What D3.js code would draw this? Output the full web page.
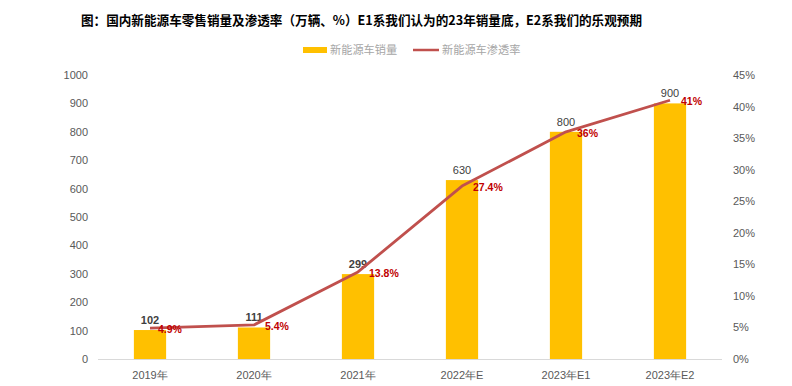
<!DOCTYPE html>
<html><head><meta charset="utf-8">
<script src="https://cdn.jsdelivr.net/npm/d3@7"></script>
<style>body{margin:0;background:#fff}svg{display:block;font-family:"Noto Sans CJK SC","Liberation Sans",sans-serif}</style>
</head><body><svg id="c" width="792" height="386"></svg>
<script>
const categories = ["2019年","2020年","2021年","2022年E","2023年E1","2023年E2"];
const sales = [102,111,299,630,800,900];
const penetration = [4.9,5.4,13.8,27.4,36,41];
const penLabels = ["4.9%","5.4%","13.8%","27.4%","36%","41%"];
const leftTicks = [0,100,200,300,400,500,600,700,800,900,1000];
const rightTicks = [0,5,10,15,20,25,30,35,40,45];
const title = "图：国内新能源车零售销量及渗透率（万辆、%）E1系我们认为的23年销量底，E2系我们的乐观预期";
const legendNames = ["新能源车销量","新能源车渗透率"];

const svg = d3.select("#c");
const x = d3.scaleBand().domain(categories).range([98,722]).paddingInner(0.69).paddingOuter(0.345);
const yL = d3.scaleLinear().domain([0,1000]).range([359,75]);
const yR = d3.scaleLinear().domain([0,45]).range([359,75]);

svg.append("text").attr("x",81).attr("y",25).attr("font-size",13).attr("font-weight","bold").attr("fill","#000")
  .attr("textLength",561).attr("lengthAdjust","spacingAndGlyphs").text(title);

// legend
const lg = svg.append("g");
lg.append("rect").attr("x",303).attr("y",47).attr("width",24).attr("height",6).attr("fill","#ffc000");
lg.append("text").attr("x",330).attr("y",54).attr("font-size",11.2).attr("fill","#a6a6a6").text(legendNames[0]);
lg.append("line").attr("x1",413).attr("x2",439).attr("y1",50).attr("y2",50).attr("stroke","#c0504d").attr("stroke-width",2.5);
lg.append("text").attr("x",442).attr("y",54).attr("font-size",11.2).attr("fill","#a6a6a6").text(legendNames[1]);

// axes
const axL = svg.append("g").attr("transform","translate(88,0)").call(d3.axisLeft(yL).tickValues(leftTicks).tickFormat(d3.format("d")).tickSize(0).tickPadding(0));
axL.select(".domain").remove();
axL.selectAll("text").attr("font-size",11).attr("fill","#595959").attr("font-family","Liberation Sans, sans-serif");
const axR = svg.append("g").attr("transform","translate(733,0)").call(d3.axisRight(yR).tickValues(rightTicks).tickFormat(d=>d+"%").tickSize(0).tickPadding(0));
axR.select(".domain").remove();
axR.selectAll("text").attr("font-size",11).attr("fill","#595959").attr("font-family","Liberation Sans, sans-serif");

// bars
svg.selectAll("rect.bar").data(sales).join("rect").attr("class","bar")
  .attr("x",(d,i)=>x(categories[i])).attr("width",x.bandwidth())
  .attr("y",d=>yL(d)).attr("height",d=>yL(0)-yL(d)).attr("fill","#ffc000");

// baseline
svg.append("line").attr("x1",98).attr("x2",722).attr("y1",359.5).attr("y2",359.5).attr("stroke","#d9d9d9");

// x labels
const axB = svg.append("g").attr("transform","translate(0,359)").call(d3.axisBottom(x).tickSize(0).tickPadding(12));
axB.select(".domain").remove();
axB.selectAll("text").attr("font-size",11).attr("fill","#595959");

// value labels
svg.selectAll("text.val").data(sales).join("text").attr("class","val")
  .attr("x",(d,i)=>x(categories[i])+x.bandwidth()/2).attr("y",d=>yL(d)-6)
  .attr("text-anchor","middle").attr("font-size",11).attr("font-family","Liberation Sans, sans-serif")
  .attr("font-weight",(d,i)=>i<3?"bold":"normal").attr("fill","#404040").text(d=>d);

// line
const cx = i=>x(categories[i])+x.bandwidth()/2;
svg.append("path").datum(penetration)
  .attr("d",d3.line().x((d,i)=>cx(i)).y(d=>yR(d)))
  .attr("fill","none").attr("stroke","#c0504d").attr("stroke-width",2.8).attr("stroke-linejoin","round");

svg.selectAll("text.pen").data(penetration).join("text").attr("class","pen")
  .attr("x",(d,i)=>cx(i)+ (i===0?8:11)).attr("y",d=>yR(d)+5)
  .attr("font-size",10.5).attr("font-weight","bold").attr("font-family","Liberation Sans, sans-serif")
  .attr("fill","#c00000").text((d,i)=>penLabels[i]);
</script></body></html>
